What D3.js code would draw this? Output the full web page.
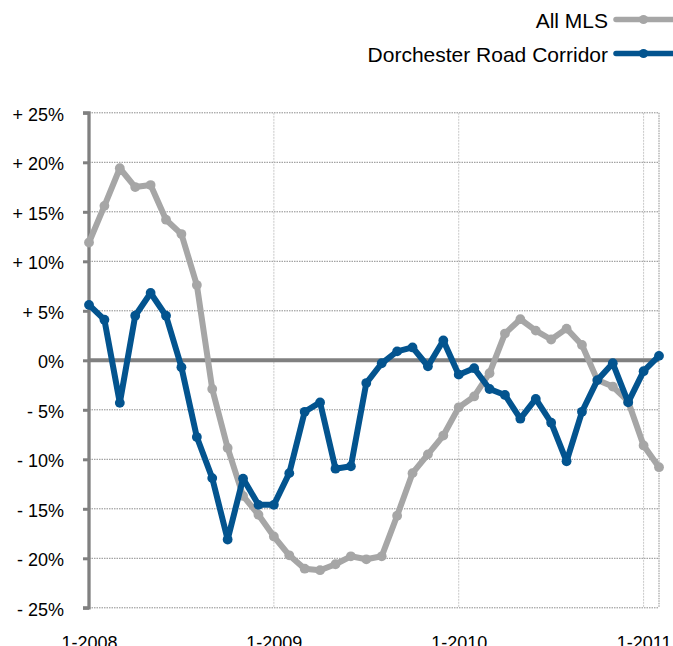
<!DOCTYPE html>
<html>
<head>
<meta charset="utf-8">
<script src="https://cdn.jsdelivr.net/npm/d3@7"></script>
<style>
  html, body { margin: 0; padding: 0; background: #fff; }
  svg { display: block; font-family: Helvetica, Arial, "Liberation Sans", sans-serif; }
</style>
</head>
<body>
<div id="chart"></div>
<script>
// months from 1-2008 to 2-2011, one point per month
const months = d3.range(38);
const yearTicks = [0, 12, 24, 36];
const yearLabels = ["1-2008", "1-2009", "1-2010", "1-2011"];
const yTicks = [-25, -20, -15, -10, -5, 0, 5, 10, 15, 20, 25];

const allMLS = [11.9, 15.6, 19.4, 17.5, 17.7, 14.2, 12.75, 7.6, -2.9, -8.85,
  -13.7, -15.6, -17.8, -19.7, -21.05, -21.2, -20.6, -19.8, -20.1, -19.8,
  -15.7, -11.4, -9.5, -7.6, -4.75, -3.65, -1.3, 2.7, 4.15, 3.0,
  2.1, 3.2, 1.55, -2.0, -2.65, -4.15, -8.6, -10.8];
const dorchester = [5.6, 4.1, -4.3, 4.5, 6.8, 4.5, -0.7, -7.75, -11.9, -18.1,
  -11.95, -14.6, -14.6, -11.4, -5.2, -4.25, -10.95, -10.7, -2.3, -0.3,
  0.9, 1.3, -0.6, 2.0, -1.45, -0.8, -2.9, -3.5, -5.9, -3.9,
  -6.3, -10.2, -5.2, -2.0, -0.3, -4.25, -1.1, 0.45];

const series = [
  {name: "All MLS", values: allMLS, color: "#a6a6a6"},
  {name: "Dorchester Road Corridor", values: dorchester, color: "#03548f"}
];

const width = 673, height = 646;
const plotLeft = 89, plotRight = 659, plotTop = 112.8, plotBottom = 607.8;
const fontFam = "Helvetica, Arial, 'Liberation Sans', sans-serif";

const x = d3.scaleLinear().domain([0, 37]).range([plotLeft, plotRight]);
const y = d3.scaleLinear().domain([-25, 25]).range([plotBottom, plotTop]);

const svg = d3.select("#chart").append("svg")
  .attr("width", width)
  .attr("height", height);

// horizontal grid (dotted)
svg.append("g")
  .selectAll("line")
  .data(yTicks.filter(d => d !== 0))
  .join("line")
  .attr("x1", plotLeft).attr("x2", plotRight)
  .attr("y1", d => y(d)).attr("y2", d => y(d))
  .attr("stroke", "#8c8c8c")
  .attr("stroke-width", 1)
  .attr("stroke-dasharray", "1.5,1");

// vertical grid at each year + right border
svg.append("g")
  .selectAll("line")
  .data(yearTicks.slice(1))
  .join("line")
  .attr("x1", d => x(d)).attr("x2", d => x(d))
  .attr("y1", plotTop).attr("y2", plotBottom)
  .attr("stroke", "#c8c8c8")
  .attr("stroke-width", 1)
  .attr("stroke-dasharray", "2,1");
svg.append("line")
  .attr("x1", plotRight).attr("x2", plotRight)
  .attr("y1", plotTop).attr("y2", plotBottom)
  .attr("stroke", "#8c8c8c")
  .attr("stroke-dasharray", "1.5,1");

// zero line
svg.append("line")
  .attr("x1", plotLeft).attr("x2", plotRight)
  .attr("y1", y(0)).attr("y2", y(0))
  .attr("stroke", "#808080")
  .attr("stroke-width", 4);

// y axis
svg.append("g")
  .attr("transform", `translate(${plotLeft},0)`)
  .call(d3.axisLeft(y).tickValues(yTicks).tickSize(6).tickPadding(19)
    .tickFormat(d => d > 0 ? "+ " + d + "%" : d < 0 ? "- " + Math.abs(d) + "%" : "0%"))
  .call(g => g.select(".domain").attr("stroke", "#808080").attr("stroke-width", 3.3)
    .attr("d", `M-6,${plotTop}H0V${plotBottom}H-6`))
  .call(g => g.selectAll(".tick line").attr("stroke", "#808080").attr("stroke-width", 3))
  .call(g => g.selectAll(".tick text").attr("fill", "#000")
    .attr("font-size", 18).attr("font-family", fontFam)
    .attr("dy", "0.42em"));

// x axis labels
svg.append("g")
  .attr("transform", `translate(0,${plotBottom})`)
  .call(d3.axisBottom(x).tickValues(yearTicks).tickSize(0).tickPadding(28)
    .tickFormat((d, i) => yearLabels[i]))
  .call(g => g.select(".domain").remove())
  .call(g => g.selectAll(".tick text").attr("fill", "#000")
    .attr("font-size", 18).attr("font-family", fontFam));

// lines and markers
const line = d3.line().x((d, i) => x(months[i])).y(d => y(d));
series.forEach(s => {
  const g = svg.append("g");
  g.append("path")
    .attr("d", line(s.values))
    .attr("fill", "none")
    .attr("stroke", s.color)
    .attr("stroke-width", 6)
    .attr("stroke-linejoin", "round");
  g.selectAll("circle")
    .data(s.values)
    .join("circle")
    .attr("cx", (d, i) => x(months[i]))
    .attr("cy", d => y(d))
    .attr("r", 4.9)
    .attr("fill", s.color);
});

// legend
const legend = svg.append("g");
series.forEach((s, i) => {
  const ly = 19.5 + i * 34;
  legend.append("text")
    .attr("x", 608).attr("y", ly + 8.7)
    .attr("text-anchor", "end")
    .attr("font-size", 21)
    .attr("font-family", fontFam)
    .attr("fill", "#000")
    .text(s.name);
  legend.append("line")
    .attr("x1", 616).attr("x2", 673)
    .attr("y1", ly).attr("y2", ly)
    .attr("stroke", s.color)
    .attr("stroke-width", 5.5)
    .attr("stroke-linecap", "round");
  legend.append("circle")
    .attr("cx", 643.5).attr("cy", ly).attr("r", 4.6)
    .attr("fill", s.color);
});
</script>
</body>
</html>
